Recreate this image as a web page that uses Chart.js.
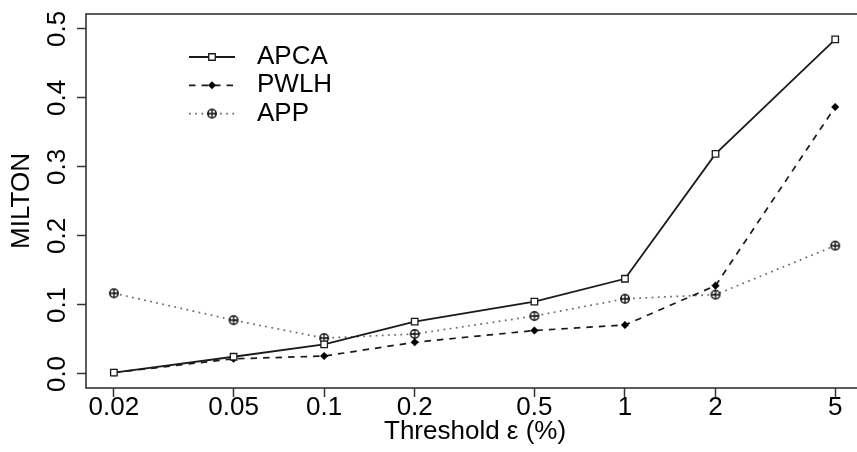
<!DOCTYPE html>
<html>
<head>
<meta charset="utf-8">
<script src="https://cdn.jsdelivr.net/npm/chart.js@4/dist/chart.umd.min.js"></script>
<style>
  html, body { margin: 0; padding: 0; background: #fff; overflow: hidden; }
  #wrap { position: relative; width: 870px; height: 452px; }
</style>
</head>
<body>
<div id="wrap"><canvas id="c"></canvas></div>
<script>
// ---- data ----
const thresholds = [0.02, 0.05, 0.1, 0.2, 0.5, 1, 2, 5];
const xTickLabels = ['0.02', '0.05', '0.1', '0.2', '0.5', '1', '2', '5'];
const yTickValues = [0, 0.1, 0.2, 0.3, 0.4, 0.5];
const seriesNames = ['APCA', 'PWLH', 'APP'];
const apca = [0.002, 0.025, 0.043, 0.076, 0.105, 0.138, 0.319, 0.485];
const pwlh = [0.002, 0.022, 0.026, 0.046, 0.063, 0.071, 0.128, 0.387];
const app  = [0.117, 0.078, 0.052, 0.058, 0.084, 0.109, 0.115, 0.186];

const FONT = '"Liberation Sans", Arial, Helvetica, sans-serif';
Chart.defaults.font.family = FONT;
Chart.defaults.color = '#000';

// circle-plus marker (R pch 10)
function makeCirclePlus() {
  const c = document.createElement('canvas');
  c.width = 12; c.height = 12;
  const g = c.getContext('2d');
  g.strokeStyle = '#111'; g.lineWidth = 1.5;
  g.beginPath(); g.arc(6, 6, 4.2, 0, Math.PI * 2); g.stroke();
  g.lineWidth = 1.3;
  g.beginPath(); g.moveTo(1.8, 6); g.lineTo(10.2, 6); g.moveTo(6, 1.8); g.lineTo(6, 10.2); g.stroke();
  return c;
}
const circlePlus = makeCirclePlus();

function pts(vals) { return thresholds.map((x, i) => ({ x: x, y: vals[i] })); }

const datasets = [
  { label: seriesNames[0], data: pts(apca), borderColor: '#1a1a1a', borderWidth: 1.8, borderDash: [],
    pointStyle: 'rect', pointRadius: 4.6, pointBorderWidth: 1.3, pointBorderColor: '#1a1a1a', pointBackgroundColor: '#fff' },
  { label: seriesNames[1], data: pts(pwlh), borderColor: '#1a1a1a', borderWidth: 1.7, borderDash: [6.5, 6],
    pointStyle: 'rectRot', pointRadius: 3.8, pointBorderWidth: 0.5, pointBorderColor: '#000', pointBackgroundColor: '#000' },
  { label: seriesNames[2], data: pts(app), borderColor: '#666', borderWidth: 1.7, borderDash: [1.7, 4.5],
    pointStyle: circlePlus, pointRadius: 5, pointBorderWidth: 0, pointBorderColor: '#111', pointBackgroundColor: 'rgba(0,0,0,0)' }
];
datasets.forEach(d => { d.fill = false; d.tension = 0; d.pointHoverRadius = d.pointRadius; });

const boxPlugin = {
  id: 'rbox',
  beforeDatasetsDraw(chart) {
    const a = chart.chartArea, ctx = chart.ctx;
    ctx.save();
    ctx.strokeStyle = '#333'; ctx.lineWidth = 1.6;
    ctx.strokeRect(a.left, a.top, a.right - a.left, a.bottom - a.top);
    ctx.restore();
  }
};

const legendPlugin = {
  id: 'rlegend',
  afterDatasetsDraw(chart) {
    const ctx = chart.ctx;
    chart.data.datasets.forEach((ds, i) => {
      const y = 57 + i * 28.3;
      ctx.save();
      ctx.strokeStyle = ds.borderColor; ctx.lineWidth = ds.borderWidth;
      ctx.setLineDash(ds.borderDash || []);
      ctx.beginPath(); ctx.moveTo(189, y); ctx.lineTo(235, y); ctx.stroke();
      ctx.setLineDash([]);
      ctx.fillStyle = ds.pointBackgroundColor; ctx.strokeStyle = ds.pointBorderColor;
      ctx.lineWidth = ds.pointBorderWidth;
      Chart.helpers.drawPoint(ctx, { pointStyle: ds.pointStyle, radius: ds.pointRadius, rotation: 0, borderWidth: ds.pointBorderWidth }, 212, y);
      ctx.fillStyle = '#000'; ctx.font = '26px ' + FONT;
      ctx.textBaseline = 'middle'; ctx.textAlign = 'left';
      ctx.fillText(ds.label, 257, y);
      ctx.restore();
    });
  }
};

new Chart(document.getElementById('c'), {
  type: 'line',
  data: { datasets: datasets },
  plugins: [boxPlugin, legendPlugin],
  options: {
    responsive: true,
    maintainAspectRatio: false,
    animation: false,
    layout: { padding: { left: 0, right: 3, top: 14, bottom: 0 } },
    plugins: { legend: { display: false }, tooltip: { enabled: false } },
    scales: {
      x: {
        type: 'logarithmic',
        min: 0.016156,
        max: 6.237,
        bounds: 'data',
        border: { display: false },
        grid: { display: true, drawOnChartArea: false, drawTicks: true, tickLength: 9, tickColor: '#333', tickWidth: 1.5 },
        ticks: {
          autoSkip: false, maxRotation: 0, minRotation: 0, padding: -2,
          font: { size: 26, lineHeight: 1 }, color: '#000',
          callback: (v, i) => xTickLabels[i]
        },
        afterBuildTicks: (s) => { s.ticks = thresholds.map(v => ({ value: v })); },
        afterFit: (s) => { s.height = 64; s.paddingLeft = 0; s.paddingRight = 0; },
        title: { display: true, text: 'Threshold ε (%)', font: { size: 26 }, color: '#000', padding: { top: 0, bottom: 5 } }
      },
      y: {
        type: 'linear',
        min: -0.0203,
        max: 0.5217,
        border: { display: false },
        grid: { display: true, drawOnChartArea: false, drawTicks: true, tickLength: 9, tickColor: '#333', tickWidth: 1.5 },
        ticks: {
          autoSkip: false, minRotation: 90, maxRotation: 90, crossAlign: 'center', padding: 1.5,
          font: { size: 26 }, color: '#000',
          callback: (v) => Number(v).toFixed(1)
        },
        afterBuildTicks: (s) => { s.ticks = yTickValues.map(v => ({ value: v })); },
        afterFit: (s) => { s.width = 86; s.paddingTop = 0; s.paddingBottom = 0; },
        title: { display: true, text: 'MILTON', font: { size: 26 }, color: '#000', padding: { top: 6.5, bottom: 0 } }
      }
    }
  }
});
</script>
</body>
</html>
